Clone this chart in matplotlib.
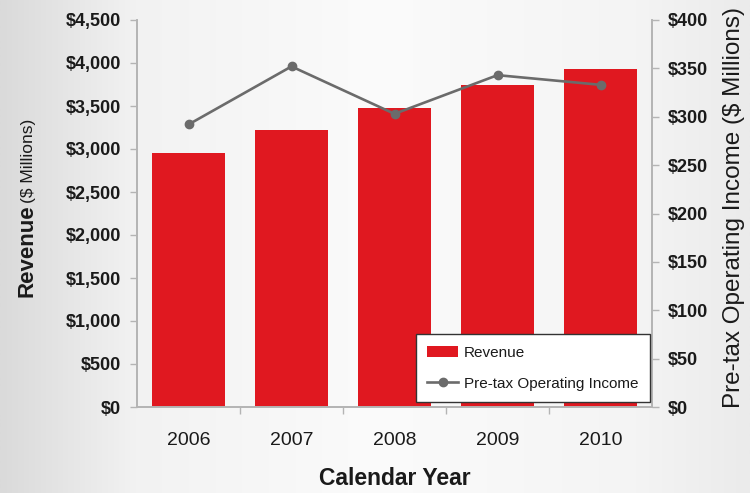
import numpy as np
import matplotlib
matplotlib.use("Agg")
import matplotlib.pyplot as plt
from matplotlib.colors import LinearSegmentedColormap
from matplotlib.ticker import FuncFormatter

plt.rcParams["font.family"] = ["Liberation Sans", "DejaVu Sans"]

years = ["2006", "2007", "2008", "2009", "2010"]
revenue = [2950, 3220, 3480, 3745, 3930]          # $ millions
operating_income = [292, 352, 303, 343, 333]      # $ millions

BAR_RED = "#e01820"
LINE_GRAY = "#6b6b6b"
SPINE_GRAY = "#b4b4b4"
TEXT = "#1a1a1a"

fig = plt.figure(figsize=(7.5, 4.93), dpi=100)

# soft grey backdrop, darker on the left edge
bg = fig.add_axes([0, 0, 1, 1], zorder=-10)
grad = LinearSegmentedColormap.from_list(
    "bg", [(0, "#dadada"), (0.18, "#f2f2f2"), (0.5, "#fbfbfb"), (0.85, "#f4f4f4"), (1, "#ebebeb")])
bg.imshow(np.linspace(0, 1, 256)[None, :], aspect="auto", cmap=grad, extent=[0, 1, 0, 1])
bg.axis("off")

ax = fig.add_axes([137 / 750, 1 - 407 / 493, 515 / 750, 387 / 493])
ax.patch.set_alpha(0)
x = np.arange(len(years))
bars = ax.bar(x, revenue, width=0.71, color=BAR_RED, zorder=2, label="Revenue")
ax.set_xlim(-0.5, len(years) - 0.5)
ax.set_ylim(0, 4500)
ax.set_yticks(np.arange(0, 4501, 500))
ax.yaxis.set_major_formatter(FuncFormatter(lambda v, _: f"${v:,.0f}"))

ax2 = ax.twinx()
line, = ax2.plot(x, operating_income, color=LINE_GRAY, lw=1.9, marker="o",
                 markersize=6, label="Pre-tax Operating Income", zorder=3)
ax2.set_ylim(0, 400)
ax2.set_yticks(np.arange(0, 401, 50))
ax2.yaxis.set_major_formatter(FuncFormatter(lambda v, _: f"${v:,.0f}"))

# category labels at bar centres, small ticks between categories
ax.set_xticks(x)
ax.set_xticklabels(years)
ax.set_xticks(np.arange(-0.5, len(years) - 0.4, 1)[1:-1], minor=True)
ax.tick_params(axis="x", which="major", length=0, pad=18, labelsize=14, labelcolor=TEXT)
ax.tick_params(axis="x", which="minor", length=5, width=1, color=SPINE_GRAY, direction="out")
ax.tick_params(axis="y", length=5, width=1, color=SPINE_GRAY, pad=6.5, labelsize=13, labelcolor=TEXT)
ax2.tick_params(axis="y", length=5, width=1, color=SPINE_GRAY, pad=6.5, labelsize=13, labelcolor=TEXT)
for lbl in ax.get_yticklabels() + ax2.get_yticklabels():
    lbl.set_fontweight("bold")

for a in (ax, ax2):
    a.spines["top"].set_visible(False)
    for s in ("left", "right", "bottom"):
        a.spines[s].set_color(SPINE_GRAY)
        a.spines[s].set_linewidth(1.2)

leg = ax2.legend([bars, line], ["Revenue", "Pre-tax Operating Income"],
                 loc="lower right", bbox_to_anchor=(0.996, 0.013), borderaxespad=0,
                 fontsize=11, handlelength=2.0, handletextpad=0.4, labelspacing=1.1,
                 borderpad=0.75, fancybox=False, framealpha=1, edgecolor="#333333")
leg.get_frame().set_linewidth(1.0)
for t in leg.get_texts():
    t.set_color(TEXT)

# axis titles
fig.text(32 / 750, 1 - 297 / 493, "Revenue", rotation=90, rotation_mode="anchor",
         ha="left", va="baseline", fontsize=16, fontweight="bold", color=TEXT)
fig.text(33 / 750, 1 - 203 / 493, "($ Millions)", rotation=90, rotation_mode="anchor",
         ha="left", va="baseline", fontsize=12.5, color=TEXT)
fig.text(740 / 750, 1 - 408 / 493, "Pre-tax Operating Income ($ Millions)", rotation=90,
         rotation_mode="anchor", ha="left", va="baseline", fontsize=17.5, color=TEXT)
fig.text(394.5 / 750, 1 - 485 / 493, "Calendar Year", ha="center", va="baseline",
         fontsize=16.5, fontweight="bold", color=TEXT)

fig.savefig("out.png", dpi=100)
